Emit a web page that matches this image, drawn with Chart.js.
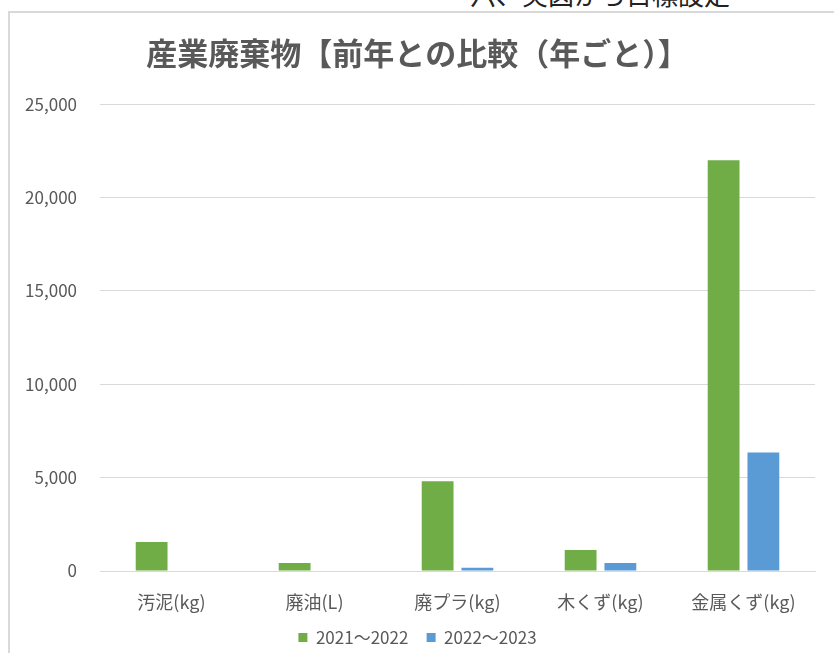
<!DOCTYPE html>
<html lang="ja">
<head>
<meta charset="utf-8">
<title>産業廃棄物</title>
<script src="https://cdn.jsdelivr.net/npm/chart.js@4.4.1/dist/chart.umd.min.js"></script>
<style>
  html, body { margin: 0; padding: 0; background: #fff; }
  #wrap { position: relative; width: 834px; height: 653px; overflow: hidden; }
  #heading {
    position: absolute; left: 470px; top: -25px; margin: 0;
    font: 26px "Noto Sans CJK JP", sans-serif; color: #222; white-space: nowrap;
  }
  #frame {
    position: absolute; left: 8px; top: 11px; right: -4px; bottom: -4px;
    border-left: 2px solid #d9d9d9; border-top: 2px solid #d9d9d9;
  }
  #chart { position: absolute; left: 0; top: 0; }
</style>
</head>
<body>
<div id="wrap">
  <p id="heading">六、実図から目標設定</p>
  <div id="frame"></div>
  <canvas id="chart" width="834" height="656"></canvas>
</div>
<script>
const categories = ['汚泥(kg)', '廃油(L)', '廃プラ(kg)', '木くず(kg)', '金属くず(kg)'];
const seriesNames = ['2021～2022', '2022～2023'];
const values2021 = [1550, 430, 4800, 1120, 22000];
const values2022 = [0, 0, 180, 430, 6350];
const yTicks = [0, 5000, 10000, 15000, 20000, 25000];

const textColor = '#595959';
const fontFamily = '"Noto Sans CJK JP", "Noto Sans", sans-serif';

// default legend items, with a wider gap after each entry
function legendItems(chart) {
    const items = Chart.defaults.plugins.legend.labels.generateLabels(chart);
    items.forEach((item, i) => {
        if (i < items.length - 1) item.text += '\u00a0\u00a0\u00a0\u00a0';
    });
    return items;
}

const ctx = document.getElementById('chart').getContext('2d');
new Chart(ctx, {
    type: 'bar',
    data: {
        labels: categories,
        datasets: [
            { label: seriesNames[0], data: values2021, backgroundColor: '#70AD47' },
            { label: seriesNames[1], data: values2022, backgroundColor: '#5B9BD5' }
        ]
    },
    options: {
        responsive: false,
        animation: false,
        barPercentage: 0.8,
        categoryPercentage: 0.556,
        layout: { padding: { top: 35, left: 20, right: 19, bottom: 0 } },
        plugins: {
            tooltip: { enabled: false },
            title: {
                display: true,
                text: '産業廃棄物【前年との比較（年ごと）】',
                color: textColor,
                font: { family: fontFamily, size: 31, weight: 'bold', lineHeight: 1.2 },
                padding: { top: 0, bottom: 32 }
            },
            legend: {
                position: 'bottom',
                labels: {
                    color: textColor,
                    font: { family: fontFamily, size: 17 },
                    boxWidth: 9,
                    boxHeight: 9,
                    padding: 3,
                    generateLabels: legendItems
                }
            }
        },
        scales: {
            x: {
                grid: { display: false, drawTicks: false },
                border: { color: '#d9d9d9', width: 1 },
                ticks: {
                    color: textColor,
                    font: { family: fontFamily, size: 18 },
                    padding: 20,
                    maxRotation: 0
                },
                afterFit: (scale) => { scale.height = 55; }
            },
            y: {
                min: 0,
                max: 25000,
                afterBuildTicks: (scale) => {
                    scale.ticks = yTicks.map(v => ({ value: v }));
                },
                grid: { color: '#d9d9d9', drawTicks: false },
                border: { display: false },
                ticks: {
                    color: textColor,
                    font: { family: fontFamily, size: 17 },
                    padding: 23,
                    callback: (v) => v.toLocaleString('en-US')
                },
                afterFit: (scale) => { scale.width = 80; }
            }
        }
    }
});
</script>
</body>
</html>
